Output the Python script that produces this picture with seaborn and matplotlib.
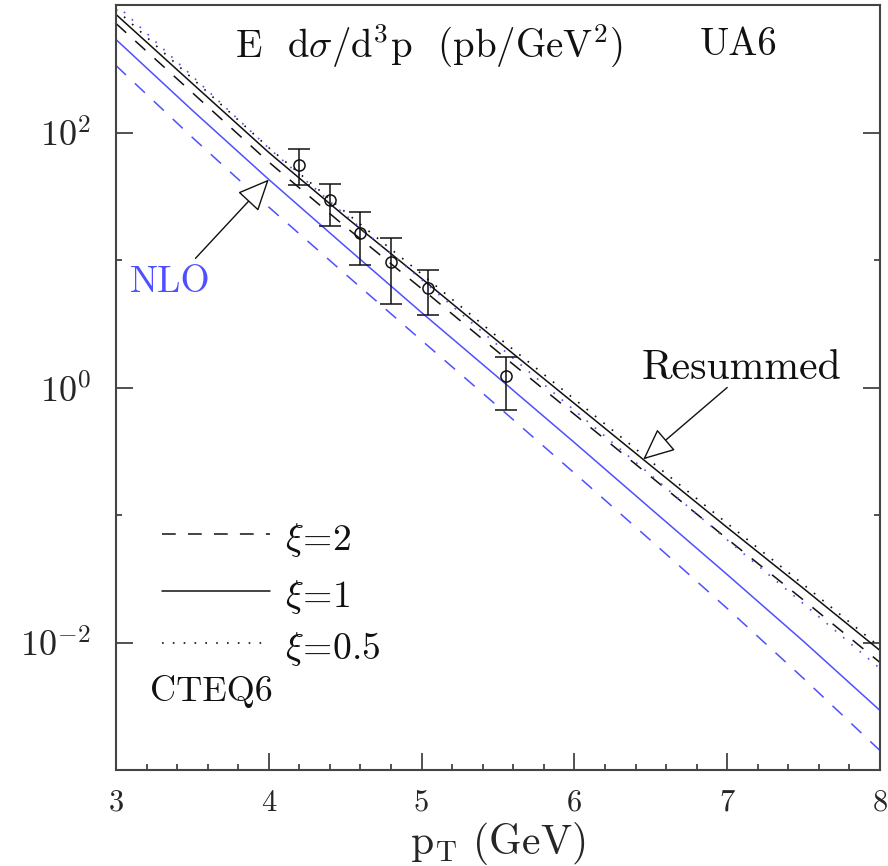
import numpy as np
import pandas as pd
import matplotlib
matplotlib.use("Agg")
import matplotlib.pyplot as plt
from matplotlib.lines import Line2D
from matplotlib.ticker import FixedLocator, MultipleLocator, NullFormatter
import seaborn as sns

# ---- curves: invariant cross section vs pT (pb/GeV^2) ----
pt_grid = [3.0, 3.5, 4.0, 4.5, 5.0, 5.5, 6.0, 6.5, 7.0, 7.5, 8.0]

resum_xi1 = [843, 242, 69.7, 21.9, 7.16, 2.30, 0.749, 0.244, 0.0798, 0.0265, 0.00866]
resum_xi2 = [716, 205, 58.6, 18.3, 5.96, 1.90, 0.616, 0.200, 0.0650, 0.0215, 0.00697]
resum_xi05 = [922, 265, 76.0, 23.8, 7.77, 2.48, 0.810, 0.264, 0.0859, 0.0284, 0.00922]
nlo_xi1 = [536, 149, 42.8, 12.8, 3.87, 1.20, 0.370, 0.112, 0.0341, 0.0102, 0.00293]
nlo_xi2 = [335, 91.4, 26.0, 7.77, 2.34, 0.710, 0.213, 0.0631, 0.0185, 0.00522, 0.00142]
nlo_xi05 = [1010, 276, 75.4, 22.6, 7.01, 2.14, 0.662, 0.206, 0.0638, 0.0201, 0.00625]

# ---- UA6 data ----
ua6_pt = [4.2, 4.4, 4.6, 4.8, 5.04, 5.55]
ua6_val = [56.0, 29.3, 16.3, 9.68, 6.05, 1.22]
ua6_hi = [73.6, 39.8, 23.7, 14.8, 8.38, 1.75]
ua6_lo = [38.4, 18.4, 9.06, 4.48, 3.69, 0.67]

xi_labels = ["2", "1", "0.5"]
y_tick_values = [1e-2, 1e0, 1e2]
y_tick_labels = [r"$10^{-2}$", r"$10^{0}$", r"$10^{2}$"]
x_tick_values = [3, 4, 5, 6, 7, 8]

curves = {
    ("Resummed", "1"): resum_xi1,
    ("Resummed", "2"): resum_xi2,
    ("Resummed", "0.5"): resum_xi05,
    ("NLO", "1"): nlo_xi1,
    ("NLO", "2"): nlo_xi2,
    ("NLO", "0.5"): nlo_xi05,
}
df = pd.concat(
    [pd.DataFrame({"pt": pt_grid, "sigma": vals, "calc": calc, "xi": xi})
     for (calc, xi), vals in curves.items()],
    ignore_index=True,
)

sns.set_style("ticks")
plt.rcParams["font.family"] = ["cmr10", "DejaVu Serif"]
plt.rcParams["mathtext.fontset"] = "cm"
plt.rcParams["axes.formatter.use_mathtext"] = True

BLUE = "#4f4fff"
INK = "#111111"
colors = {"Resummed": INK, "NLO": BLUE}
dash_for = {"2": (9, 8), "1": None, "0.5": (1.0, 5.5)}

fig = plt.figure(figsize=(8.88, 8.66), dpi=100)
ax = fig.add_axes([116 / 888, 1 - 770 / 866, 764 / 888, 765 / 866])

for (calc, xi), sub in df.groupby(["calc", "xi"], sort=False):
    sns.lineplot(data=sub, x="pt", y="sigma", ax=ax, color=colors[calc],
                 lw=1.2 if xi == "0.5" else 1.1, estimator=None, sort=False)
    ln = ax.lines[-1]
    if dash_for[xi] is not None:
        ln.set_dashes(dash_for[xi])

ax.errorbar(ua6_pt, ua6_val,
            yerr=[np.array(ua6_val) - np.array(ua6_lo), np.array(ua6_hi) - np.array(ua6_val)],
            fmt="o", ms=8, mfc="none", mec=INK, mew=1.1, ecolor=INK,
            elinewidth=1.1, capsize=8, capthick=1.1, zorder=5)

ax.set_yscale("log")
ax.set_xlim(3, 8)
ax.set_ylim(1e-3, 1e3)
ax.set_ylabel("")

ax.xaxis.set_major_locator(FixedLocator(x_tick_values))
ax.xaxis.set_minor_locator(MultipleLocator(0.2))
ax.set_xticklabels([str(v) for v in x_tick_values])
ax.yaxis.set_major_locator(FixedLocator(y_tick_values))
ax.yaxis.set_minor_locator(FixedLocator([1e-1, 1e1]))
ax.yaxis.set_minor_formatter(NullFormatter())
ax.set_yticklabels(y_tick_labels)

for s in ax.spines.values():
    s.set_linewidth(1.5)
    s.set_color("#444444")
ax.tick_params(which="both", direction="in", color="#222222", width=1.1,
               top=False, right=True)
ax.tick_params(which="major", length=12)
ax.tick_params(which="minor", length=4.5)
ax.tick_params(axis="x", which="major", pad=14, labelsize=22)
ax.tick_params(axis="y", which="major", pad=18, labelsize=26)

ax.set_xlabel(r"$\mathrm{p_T}$ (GeV)", fontsize=30, labelpad=2)

# ---- annotations ----
txt = dict(fontsize=28, color=INK)
ax.text(0.156, 0.948, r"E  d$\sigma$/d$^3$p  (pb/GeV$^2$)", transform=ax.transAxes,
        ha="left", va="center", **txt)
ax.text(0.764, 0.948, "UA6", transform=ax.transAxes, ha="left", va="center", **txt)
ax.text(0.0707, 0.637, "NLO", transform=ax.transAxes, ha="center", va="center",
        fontsize=27, color=BLUE)
ax.text(0.819, 0.5255, "Resummed", transform=ax.transAxes, ha="center", va="center",
        fontsize=30, color=INK)
ax.text(0.0445, 0.102, "CTEQ6", transform=ax.transAxes, ha="left", va="center",
        fontsize=26, color=INK)

arrow = dict(arrowstyle="-|>,head_length=1.0,head_width=0.45", fc="white", ec=INK,
             lw=1.0, shrinkA=0, shrinkB=0, mutation_scale=20)
nlo_tip_x = 4.0
nlo_tip_y = 10 ** np.interp(nlo_tip_x, pt_grid, np.log10(nlo_xi1))
ax.annotate("", xy=(nlo_tip_x, nlo_tip_y), xytext=(3.52, 10.3), arrowprops=arrow)
res_tip_x = 6.45
res_tip_y = 10 ** np.interp(res_tip_x, pt_grid, np.log10(resum_xi1))
ax.annotate("", xy=(res_tip_x, res_tip_y), xytext=(7.0, 1.0), arrowprops=arrow)

# ---- line-style key ----
key_y = [0.3085, 0.234, 0.166]
for xi, yk in zip(xi_labels, key_y):
    kl = Line2D([0.0602, 0.2016], [yk, yk], transform=ax.transAxes, color=INK,
                lw=1.2 if xi == "0.5" else 1.1)
    if dash_for[xi] is not None:
        kl.set_dashes(dash_for[xi])
    ax.add_line(kl)
    ax.text(0.221, yk - 0.008, r"$\xi\!=\!" + xi + "$", transform=ax.transAxes,
            ha="left", va="center", fontsize=27, color=INK)

fig.savefig("out.png", dpi=100)
